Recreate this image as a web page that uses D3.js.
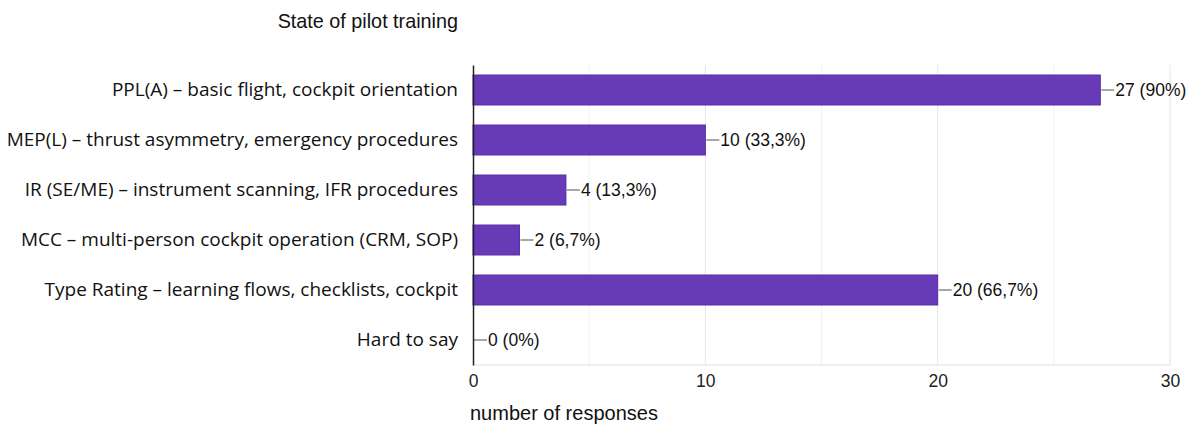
<!DOCTYPE html>
<html><head><meta charset="utf-8">
<script src="https://cdn.jsdelivr.net/npm/d3@7"></script>
<style>body{margin:0;background:#fff}</style>
</head><body>
<svg id="c" width="1196" height="425"></svg>
<script>
const categories = [
  "PPL(A) – basic flight, cockpit orientation",
  "MEP(L) – thrust asymmetry, emergency procedures",
  "IR (SE/ME) – instrument scanning, IFR procedures",
  "MCC – multi-person cockpit operation (CRM, SOP)",
  "Type Rating – learning flows, checklists, cockpit",
  "Hard to say"
];
const values = [27, 10, 4, 2, 20, 0];
const valueLabels = ["27 (90%)", "10 (33,3%)", "4 (13,3%)", "2 (6,7%)", "20 (66,7%)", "0 (0%)"];
const xTicks = [0, 10, 20, 30];
const gridTicks = [5, 10, 15, 20, 25, 30];
const title = "State of pilot training";
const xTitle = "number of responses";

(function () {
const svg = d3.select("#c");
const mL = 473, mR = 1170, mT = 65, mB = 365;
const x = d3.scaleLinear().domain([0, 30]).range([mL, mR]);
const y = d3.scaleBand().domain(categories).range([mT, mB]).paddingInner(0.4).paddingOuter(0.2);

// gridlines
svg.append("g").selectAll("line").data(gridTicks).join("line")
  .attr("x1", d => x(d)).attr("x2", d => x(d))
  .attr("y1", mT).attr("y2", mB)
  .attr("stroke", d => d % 10 === 0 ? "#e6e6e6" : "#f1f1f1").attr("stroke-width", 1);
svg.append("line").attr("x1", mL).attr("x2", mR).attr("y1", mB).attr("y2", mB)
  .attr("stroke", "#e0e0e0");

// bars
svg.append("g").selectAll("rect").data(values).join("rect")
  .attr("x", x(0)).attr("y", (d, i) => y(categories[i]))
  .attr("width", d => x(d) - x(0)).attr("height", y.bandwidth())
  .attr("fill", "#673ab7").attr("stroke", d => d > 0 ? "#5a2ea6" : "none").attr("stroke-width", 1);

// connector + value labels
const vl = svg.append("g");
values.forEach((d, i) => {
  const cy = y(categories[i]) + y.bandwidth() / 2;
  vl.append("line").attr("x1", x(d) + 1).attr("x2", x(d) + 14).attr("y1", cy).attr("y2", cy)
    .attr("stroke", "#8a8a8a").attr("stroke-width", 1.5);
  vl.append("text").attr("x", x(d) + 15).attr("y", cy).attr("dy", "0.35em")
    .attr("font-family", "Liberation Sans, Arial, sans-serif").attr("font-size", 17.5)
    .attr("fill", "#111").text(valueLabels[i]);
});

// y axis
const ya = svg.append("g").attr("transform", `translate(${mL},0)`)
  .call(d3.axisLeft(y).tickSize(0).tickPadding(15));
ya.select(".domain").attr("stroke", "#222").attr("stroke-width", 1.5);
ya.selectAll("text").attr("font-family", "Open Sans, Noto Sans, sans-serif").attr("font-size", 19).attr("fill", "#111");

// x axis
const xa = svg.append("g").attr("transform", `translate(0,${mB})`)
  .call(d3.axisBottom(x).tickValues(xTicks).tickSize(0).tickPadding(10).tickFormat(d3.format("d")));
xa.select(".domain").remove();
xa.selectAll("text").attr("font-family", "Liberation Sans, Arial, sans-serif").attr("font-size", 17.5).attr("fill", "#222");

// titles
svg.append("text").attr("x", 458).attr("y", 28).attr("text-anchor", "end")
  .attr("font-family", "Liberation Sans, Arial, sans-serif").attr("font-size", 19.8).attr("fill", "#111").text(title);
svg.append("text").attr("x", 470).attr("y", 420)
  .attr("font-family", "Liberation Sans, Arial, sans-serif").attr("font-size", 20).attr("fill", "#111").text(xTitle);
})();
</script>
</body></html>
